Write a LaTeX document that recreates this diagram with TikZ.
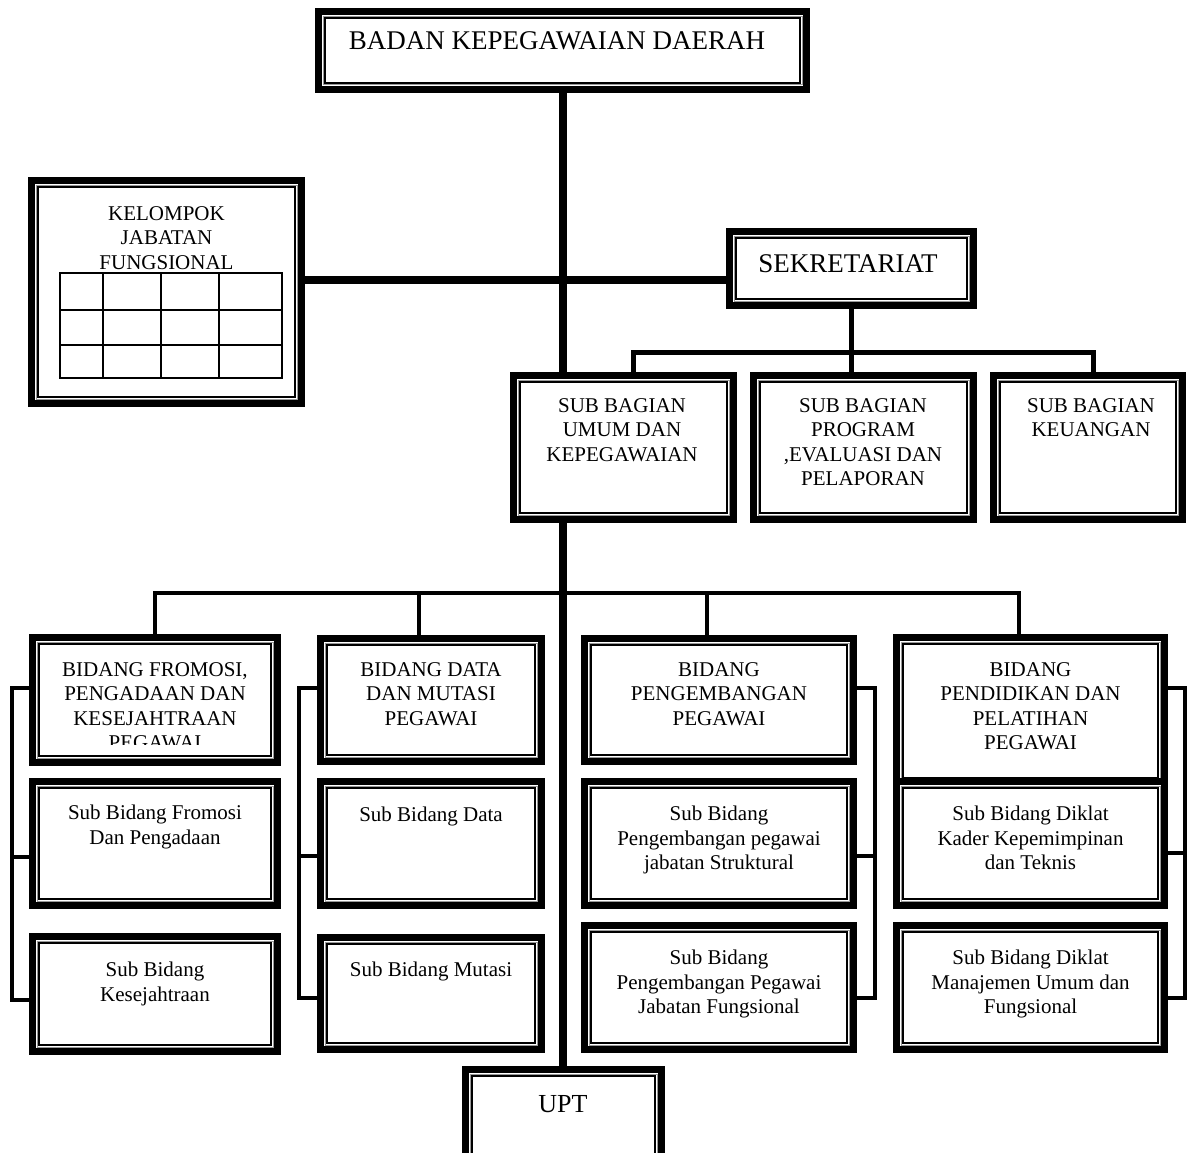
\documentclass[tikz,border=0pt]{standalone}
\usepackage{fontspec}
\setmainfont{Liberation Serif}
\usepackage{tikz}
\usetikzlibrary{calc,backgrounds}

\tikzset{
    kotak/.style={draw, fill=white, line width=7pt, inner sep=0pt,
        path picture={
            \draw[black!40, line width=0.8pt]
                ([shift={(4.6pt,4.6pt)}]path picture bounding box.south west) rectangle
                ([shift={(-4.6pt,-4.6pt)}]path picture bounding box.north east);
            \draw[line width=1.8pt]
                ([shift={(6.8pt,6.8pt)}]path picture bounding box.south west) rectangle
                ([shift={(-6.8pt,-6.8pt)}]path picture bounding box.north east);
        }},
    teks/.style={inner sep=0pt, anchor=north, align=center, font=\fontsize{21}{24.5}\selectfont},
    judul/.style={teks, font=\fontsize{27}{31}\selectfont},
    batang/.style={line width=8pt},
    cabang/.style={line width=5pt, line join=miter},
    ranting/.style={line width=4pt, line join=miter}
}

\begin{document}
\begin{tikzpicture}[x=1pt, y=-1pt]
    \useasboundingbox (0,0) rectangle (1187,1153);

    % Kepala badan
    \node[kotak, minimum width=488pt, minimum height=78pt] (badan) at (562.5,50.5) {};
    \node[judul] (badan teks) at (557,31) {BADAN KEPEGAWAIAN DAERAH};

    % Kelompok jabatan fungsional
    \node[kotak, minimum width=270pt, minimum height=223pt] (kelompok) at (166.5,292) {};
    \node[teks] (kelompok teks) at (166.5,206) {KELOMPOK\\JABATAN\\FUNGSIONAL};
    \draw[line width=2pt] (60,273) rectangle (282,378);
    \foreach \x in {103,161,219}
        \draw[line width=2pt] (\x,273) -- (\x,378);
    \foreach \y in {310,345}
        \draw[line width=2pt] (60,\y) -- (282,\y);

    % Sekretariat
    \node[kotak, minimum width=244pt, minimum height=74pt] (sekretariat) at (851.5,268.5) {};
    \node[judul] (sekretariat teks) at (848,254) {SEKRETARIAT};

    % Sub bagian
    \node[kotak, minimum width=220pt, minimum height=144pt] (umum) at (623.5,447.5) {};
    \node[teks] (umum teks) at (622,398) {SUB BAGIAN\\UMUM DAN\\KEPEGAWAIAN};

    \node[kotak, minimum width=220pt, minimum height=144pt] (program) at (863.5,447.5) {};
    \node[teks] (program teks) at (863,398) {SUB BAGIAN\\PROGRAM\\,EVALUASI DAN\\PELAPORAN};

    \node[kotak, minimum width=189pt, minimum height=144pt] (keuangan) at (1088,447.5) {};
    \node[teks] (keuangan teks) at (1091,398) {SUB BAGIAN\\KEUANGAN};

    % Bidang fromosi
    \node[kotak, minimum width=245pt, minimum height=125pt] (fromosi) at (155,700) {};
    \begin{scope}
        \clip (36,640) rectangle (274,744);
        \node[teks] (fromosi teks) at (155,662) {BIDANG FROMOSI,\\PENGADAAN DAN\\KESEJAHTRAAN\\PEGAWAI};
    \end{scope}
    \node[kotak, minimum width=245pt, minimum height=124pt] (subfromosi) at (155,843.5) {};
    \node[teks] (subfromosi teks) at (155,805) {Sub Bidang Fromosi\\Dan Pengadaan};
    \node[kotak, minimum width=245pt, minimum height=115pt] (kesejahtraan) at (155,994) {};
    \node[teks] (kesejahtraan teks) at (155,962) {Sub Bidang\\Kesejahtraan};

    % Bidang data
    \node[kotak, minimum width=221pt, minimum height=123pt] (data) at (431,700) {};
    \node[teks] (data teks) at (431,662) {BIDANG DATA\\DAN MUTASI\\PEGAWAI};
    \node[kotak, minimum width=221pt, minimum height=124pt] (subdata) at (431,843.5) {};
    \node[teks] (subdata teks) at (431,807) {Sub Bidang Data};
    \node[kotak, minimum width=221pt, minimum height=112pt] (mutasi) at (431,993.5) {};
    \node[teks] (mutasi teks) at (431,962) {Sub Bidang Mutasi};

    % Bidang pengembangan
    \node[kotak, minimum width=269pt, minimum height=123pt] (pengembangan) at (719,700) {};
    \node[teks] (pengembangan teks) at (719,662) {BIDANG\\PENGEMBANGAN\\PEGAWAI};
    \node[kotak, minimum width=269pt, minimum height=124pt] (struktural) at (719,843.5) {};
    \node[teks] (struktural teks) at (719,806) {Sub Bidang\\Pengembangan pegawai\\jabatan Struktural};
    \node[kotak, minimum width=269pt, minimum height=124pt] (fungsional) at (719,987.5) {};
    \node[teks] (fungsional teks) at (719,950) {Sub Bidang\\Pengembangan Pegawai\\Jabatan Fungsional};

    % Bidang pendidikan
    \node[kotak, minimum width=268pt, minimum height=147pt] (pendidikan) at (1030.5,711) {};
    \node[teks] (pendidikan teks) at (1030.5,662) {BIDANG\\PENDIDIKAN DAN\\PELATIHAN\\PEGAWAI};
    \node[kotak, minimum width=268pt, minimum height=124pt] (kader) at (1030.5,843.5) {};
    \node[teks] (kader teks) at (1030.5,806) {Sub Bidang Diklat\\Kader Kepemimpinan\\dan Teknis};
    \node[kotak, minimum width=268pt, minimum height=124pt] (manajemen) at (1030.5,987.5) {};
    \node[teks] (manajemen teks) at (1030.5,950) {Sub Bidang Diklat\\Manajemen Umum dan\\Fungsional};

    % UPT
    \node[kotak, minimum width=196pt, minimum height=104pt] (upt) at (563.5,1121.5) {};
    \node[judul, font=\fontsize{26}{30}\selectfont] (upt teks) at (563,1095) {UPT};

    % Garis penghubung
    \begin{pgfonlayer}{background}
        \draw[batang] (badan.south) -- (badan.south |- upt.north);
        \draw[batang] (kelompok.east |- 0,280) -- (sekretariat.west |- 0,280);

        \draw[cabang] (sekretariat.south) -- (program.north -| sekretariat.south);
        \draw[cabang] (umum.north -| 633,0) -- (633,352) -- (1093,352) -- (keuangan.north -| 1093,0);

        \draw[ranting] (fromosi.north) -- (155,593) -- (1019,593) -- (pendidikan.north -| 1019,0);
        \draw[ranting] (419,593) -- (data.north -| 419,0);
        \draw[ranting] (707,593) -- (pengembangan.north -| 707,0);

        \draw[ranting] (fromosi.west |- 0,688) -- (12,688) -- (12,1000) -- (kesejahtraan.west |- 0,1000);
        \draw[ranting] (12,857) -- (subfromosi.west |- 0,857);
        \draw[ranting] (data.west |- 0,688) -- (299,688) -- (299,998) -- (mutasi.west |- 0,998);
        \draw[ranting] (299,856) -- (subdata.west |- 0,856);
        \draw[ranting] (pengembangan.east |- 0,688) -- (875,688) -- (875,998) -- (fungsional.east |- 0,998);
        \draw[ranting] (875,856) -- (struktural.east |- 0,856);
        \draw[ranting] (pendidikan.east |- 0,688) -- (1185,688) -- (1185,998) -- (manajemen.east |- 0,998);
        \draw[ranting] (1185,853) -- (kader.east |- 0,853);
    \end{pgfonlayer}
\end{tikzpicture}
\end{document}
